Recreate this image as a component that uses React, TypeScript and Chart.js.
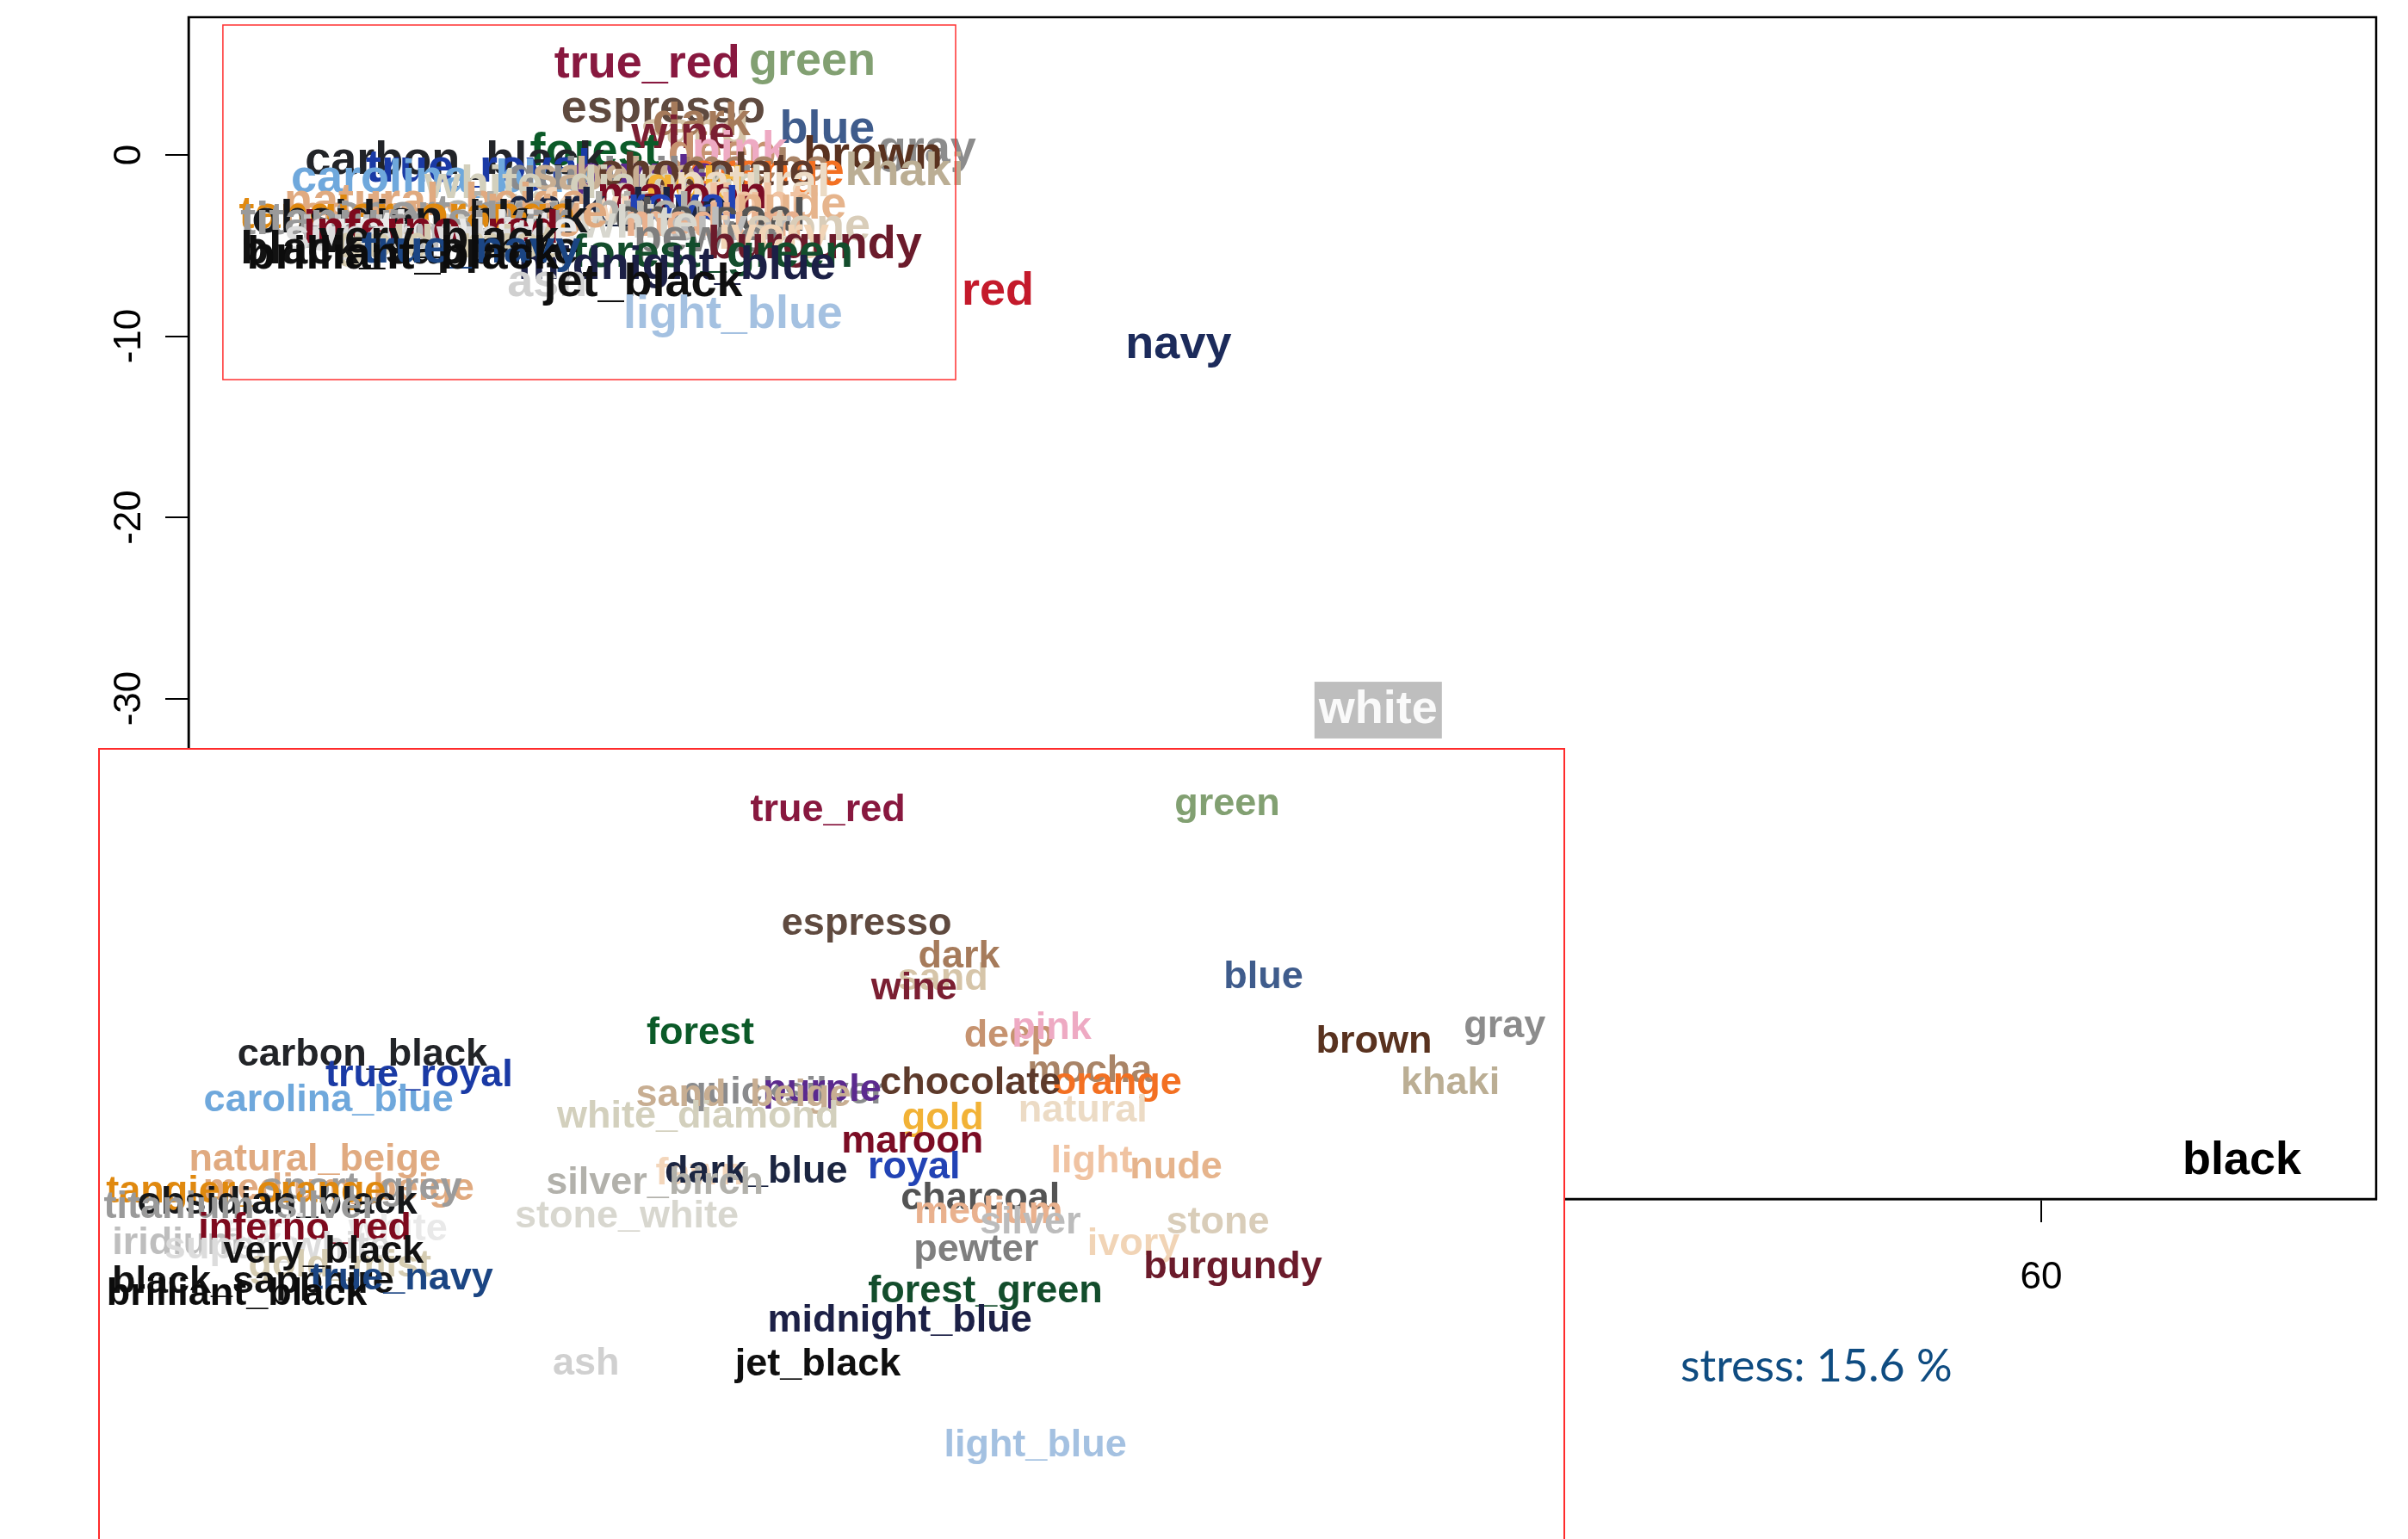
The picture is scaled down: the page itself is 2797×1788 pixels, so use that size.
import React, { useEffect, useRef } from 'react';
import { Chart, registerables } from 'chart.js';

Chart.register(...registerables);

// ---- data: MDS configuration of colour names ----
const colorNames = [
  'true_red', 'green', 'espresso', 'sand', 'dark', 'wine', 'blue', 'forest', 'deep', 'pink',
  'gray', 'brown', 'carbon_black', 'true_royal', 'carolina_blue', 'mocha', 'orange', 'khaki', 'quicksilver', 'sand',
  'purple', 'beige', 'chocolate', 'white_diamond', 'gold', 'natural', 'natural_beige', 'maroon', 'light', 'nude',
  'fawn', 'dark_blue', 'royal', 'silver_birch', 'charcoal', 'medium', 'silver', 'stone', 'stone_white', 'pewter',
  'ivory', 'burgundy', 'forest_green', 'midnight_blue', 'ash', 'jet_black', 'light_blue', 'medium_beige', 'sport_grey', 'tangier_orange',
  'obsidian_black', 'titanium_silver', 'iridium', 'arctic_white', 'inferno_red', 'super_white', 'gold_mist', 'very_black', 'black_sapphire', 'true_navy',
  'brilliant_black', 'red', 'navy', 'white', 'black',
];

const dim1 = [
  6.03, 12.42, 6.65, 7.87, 8.13, 7.41, 13.0, 3.99, 8.93, 9.61,
  16.86, 14.77, -1.42, -0.51, -1.96, 10.22, 10.66, 15.99, 5.33, 3.68,
  5.94, 5.59, 8.31, 3.95, 7.87, 10.11, -2.18, 7.38, 10.25, 11.6,
  3.98, 4.88, 7.41, 3.26, 8.47, 8.6, 9.27, 12.27, 2.81, 8.4,
  10.92, 12.51, 8.55, 7.18, 2.16, 5.87, 9.35, -1.8, -1.43, -3.28,
  -2.78, -3.37, -4.39, -1.85, -2.34, -2.78, -1.78, -2.04, -3.17, -0.79,
  -3.43, 19.6, 26.6, 34.33, 67.77,
];

const dim2 = [
  4.99, 5.12, 2.51, 1.31, 1.81, 1.1, 1.35, 0.14, 0.07, 0.24,
  0.28, -0.06, -0.33, -0.78, -1.34, -0.7, -0.96, -0.95, -1.17, -1.21,
  -1.11, -1.21, -0.96, -1.68, -1.72, -1.55, -2.62, -2.24, -2.67, -2.79,
  -2.92, -2.88, -2.79, -3.14, -3.48, -3.78, -3.99, -3.99, -3.86, -4.59,
  -4.46, -4.98, -5.49, -6.13, -7.07, -7.1, -8.85, -3.27, -3.24, -3.33,
  -3.56, -3.65, -4.44, -4.14, -4.12, -4.55, -4.93, -4.64, -5.3, -5.21,
  -5.56, -7.55, -10.5, -30.64, -55.53,
];

const labelColors = [
  '#88183f', '#82a072', '#5f4a3f', '#d6c5a9', '#a67b5b', '#7b1f32', '#3f5c8c', '#0b5a28', '#c69370', '#eeaac3',
  '#8c8c8c', '#59321f', '#222428', '#1a3aa5', '#6fa8dc', '#a98467', '#f37022', '#bbae94', '#8a8b8d', '#c8ae92',
  '#5b2a8e', '#c8ae92', '#5d3a2b', '#d3d0bd', '#f2b236', '#ecdbc5', '#e0aa80', '#7b0c24', '#f0c3a2', '#e6b48c',
  '#f3d6bb', '#1b2541', '#2243b5', '#b2b1ab', '#545454', '#e9b18e', '#bcbcbc', '#d9cdb9', '#d8d7cf', '#7f7f7f',
  '#f1d4b6', '#6b1b2b', '#134d2c', '#1c2046', '#d0d0d0', '#0f0f0f', '#a4c1e1', '#e0aa80', '#9b9b9b', '#e0890f',
  '#15171a', '#9a9a9a', '#bebebe', '#e9e9e9', '#7e0a1e', '#dcdcdc', '#d5ccb2', '#121212', '#121212', '#1b4583',
  '#0c0c0c', '#c41a2b', '#1c2b5b', '#fafafa', '#000000',
];

const xTickValues = [0, 20, 40, 60];
const yTickValues = [0, -10, -20, -30, -40, -50];
const mainXRange = [-11.73, 72.97];
const mainYRange = [-57.62, 7.6];
const zoomXRange = [-10.4, 17.97];
const zoomYRange = [-12.4, 7.17];
const insetXRange = [-5.62, 17.8];
const insetYRange = [-11.25, 6.32];
const stressText = 'stress: 15.6 %';
const highlightLabel = 'white';
const highlightBg = '#bebebe';

const FONT = '"Liberation Sans", Arial, Helvetica, sans-serif';

function drawLabels(chart: any, size: number) {
  const { ctx, chartArea } = chart;
  const xs = chart.scales.x;
  const ys = chart.scales.y;
  ctx.save();
  ctx.beginPath();
  ctx.rect(chartArea.left, chartArea.top, chartArea.right - chartArea.left, chartArea.bottom - chartArea.top);
  ctx.clip();
  ctx.font = `bold ${size}px ${FONT}`;
  ctx.textAlign = 'center';
  ctx.textBaseline = 'middle';
  colorNames.forEach((name, i) => {
    const px = xs.getPixelForValue(dim1[i]);
    const py = ys.getPixelForValue(dim2[i]);
    if (name === highlightLabel) {
      const w = ctx.measureText(name).width + 10;
      const h = size * 1.22;
      ctx.fillStyle = highlightBg;
      ctx.fillRect(px - w / 2, py - h / 2, w, h);
    }
    ctx.fillStyle = labelColors[i];
    ctx.fillText(name, px, py);
  });
  ctx.restore();
}

const mainPlugin = {
  id: 'mainLabels',
  afterDraw(chart: any) {
    const { ctx, chartArea } = chart;
    const xs = chart.scales.x;
    const ys = chart.scales.y;
    drawLabels(chart, 54);
    ctx.save();
    // zoom window
    const zx0 = xs.getPixelForValue(zoomXRange[0]);
    const zx1 = xs.getPixelForValue(zoomXRange[1]);
    const zy0 = ys.getPixelForValue(zoomYRange[1]);
    const zy1 = ys.getPixelForValue(zoomYRange[0]);
    ctx.strokeStyle = '#ff3030';
    ctx.lineWidth = 1.5;
    ctx.strokeRect(zx0, zy0, zx1 - zx0, zy1 - zy0);
    // box
    ctx.strokeStyle = '#000';
    ctx.lineWidth = 2.5;
    ctx.strokeRect(chartArea.left, chartArea.top, chartArea.right - chartArea.left, chartArea.bottom - chartArea.top);
    // rotated y tick labels
    ctx.fillStyle = '#000';
    ctx.font = `44px ${FONT}`;
    ctx.textAlign = 'center';
    ctx.textBaseline = 'alphabetic';
    ys.ticks.forEach((t: any) => {
      const py = ys.getPixelForValue(t.value);
      ctx.save();
      ctx.translate(chartArea.left - 56, py);
      ctx.rotate(-Math.PI / 2);
      ctx.fillText(String(t.value), 0, 0);
      ctx.restore();
    });
    // stress annotation
    ctx.fillStyle = '#0f4c81';
    ctx.font = `52px Lato, "Open Sans", sans-serif`;
    ctx.textAlign = 'left';
    ctx.fillText(stressText, 1952, 1605);
    ctx.restore();
  },
};

const insetPlugin = {
  id: 'insetLabels',
  afterDraw(chart: any) {
    drawLabels(chart, 45);
  },
};

export default function App() {
  const mainRef = useRef<HTMLCanvasElement>(null);
  const insetRef = useRef<HTMLCanvasElement>(null);

  useEffect(() => {
    const points = dim1.map((x, i) => ({ x, y: dim2[i] }));
    const main = new Chart(mainRef.current as HTMLCanvasElement, {
      type: 'scatter',
      data: { datasets: [{ data: points, pointRadius: 0, pointHoverRadius: 0 }] },
      options: {
        animation: false,
        responsive: false,
        devicePixelRatio: 1,
        events: [],
        layout: { padding: { left: 0, top: 20, right: 37, bottom: 0 } },
        plugins: { legend: { display: false }, tooltip: { enabled: false } },
        scales: {
          x: {
            type: 'linear',
            min: mainXRange[0],
            max: mainXRange[1],
            afterBuildTicks: (s: any) => { s.ticks = xTickValues.map((v) => ({ value: v })); },
            afterFit: (s: any) => { s.height = 1788 - 1393; },
            grid: { drawOnChartArea: false, drawTicks: true, tickLength: 27, color: '#000', lineWidth: 2 },
            border: { display: true, color: '#000', width: 2.5 },
            ticks: { color: '#000', font: { family: FONT, size: 44 }, padding: 38, maxRotation: 0, autoSkip: false },
          },
          y: {
            type: 'linear',
            min: mainYRange[0],
            max: mainYRange[1],
            afterBuildTicks: (s: any) => { s.ticks = yTickValues.map((v) => ({ value: v })); },
            afterFit: (s: any) => { s.width = 219; },
            grid: { drawOnChartArea: false, drawTicks: true, tickLength: 27, color: '#000', lineWidth: 2 },
            border: { display: true, color: '#000', width: 2.5 },
            ticks: { display: false },
          },
        },
      } as any,
      plugins: [mainPlugin],
    });

    const inset = new Chart(insetRef.current as HTMLCanvasElement, {
      type: 'scatter',
      data: { datasets: [{ data: points, pointRadius: 0, pointHoverRadius: 0 }] },
      options: {
        animation: false,
        responsive: false,
        devicePixelRatio: 1,
        events: [],
        layout: { padding: 0 },
        plugins: { legend: { display: false }, tooltip: { enabled: false } },
        scales: {
          x: { type: 'linear', display: false, min: insetXRange[0], max: insetXRange[1] },
          y: { type: 'linear', display: false, min: insetYRange[0], max: insetYRange[1] },
        },
      } as any,
      plugins: [insetPlugin],
    });

    return () => {
      main.destroy();
      inset.destroy();
    };
  }, []);

  return (
    <div style={{ position: 'fixed', left: 0, top: 0, width: 2797, height: 1788, overflow: 'hidden', background: '#fff' }}>
      <canvas ref={mainRef} width={2797} height={1788} style={{ position: 'absolute', left: 0, top: 0 }} />
      <div
        style={{
          position: 'absolute',
          left: 114,
          top: 869,
          width: 1704,
          height: 940,
          border: '2px solid #ff2b2b',
          boxSizing: 'border-box',
          background: '#fff',
        }}
      >
        <canvas ref={insetRef} width={1700} height={936} style={{ display: 'block' }} />
      </div>
    </div>
  );
}
